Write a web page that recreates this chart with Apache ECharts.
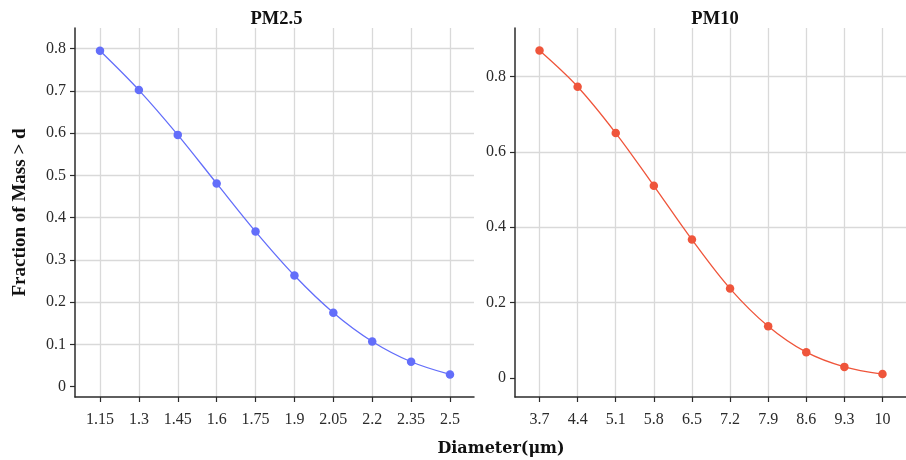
<!DOCTYPE html>
<html>
<head>
<meta charset="utf-8">
<script src="https://cdn.jsdelivr.net/npm/echarts@6/dist/echarts.min.js"></script>
<style>
  html, body { margin: 0; padding: 0; background: #ffffff; }
  #chart { width: 906px; height: 460px; }
</style>
</head>
<body>
<div id="chart"></div>
<script>
// Cumulative mass fraction above a given particle diameter
const pm25Diameters = [1.15, 1.3, 1.45, 1.6, 1.75, 1.9, 2.05, 2.2, 2.35, 2.5];
const pm25Fractions = [0.795, 0.702, 0.596, 0.481, 0.367, 0.263, 0.175, 0.107, 0.059, 0.029];

const pm10Diameters = [3.7, 4.4, 5.1, 5.8, 6.5, 7.2, 7.9, 8.6, 9.3, 10];
const pm10Fractions = [0.869, 0.773, 0.650, 0.510, 0.367, 0.237, 0.137, 0.068, 0.029, 0.010];

const pm25YTicks = [0, 0.1, 0.2, 0.3, 0.4, 0.5, 0.6, 0.7, 0.8];
const pm10YTicks = [0, 0.2, 0.4, 0.6, 0.8];

const panelTitles = ['PM2.5', 'PM10'];
const xTitle = 'Diameter(\u03bcm)';
const yTitle = 'Fraction of Mass > d';

const FONT = 'Liberation Serif';
const GRID_COLOR = '#d9d9d9';
const AXIS_COLOR = '#2b2b2b';
const TEXT_COLOR = '#2b2b2b';

// zero line is drawn white so it cuts through the vertical grid
function gridColors(ticks) {
  return ticks.map(v => (v === 0 ? '#ffffff' : GRID_COLOR));
}

function xAxisFor(gridIndex, ticks, min, max) {
  return {
    type: 'value', gridIndex, min, max,
    axisLine: { show: true, onZero: false, lineStyle: { color: AXIS_COLOR, width: 1.5 } },
    axisTick: { show: true, customValues: ticks, length: 5, lineStyle: { color: AXIS_COLOR, width: 1.2 } },
    axisLabel: {
      customValues: ticks, margin: 15,
      fontFamily: FONT, fontSize: 16, color: TEXT_COLOR,
      formatter: v => String(+v.toFixed(2))
    },
    splitLine: { show: true, lineStyle: { color: GRID_COLOR, width: 1.3 } }
  };
}

function yAxisFor(gridIndex, ticks, min, max, extra) {
  return Object.assign({
    type: 'value', gridIndex, min, max,
    axisLine: { show: true, onZero: false, lineStyle: { color: AXIS_COLOR, width: 1.5 } },
    axisTick: { show: true, customValues: ticks, length: 5, lineStyle: { color: AXIS_COLOR, width: 1.2 } },
    axisLabel: {
      customValues: ticks, margin: 9,
      fontFamily: FONT, fontSize: 16, color: TEXT_COLOR,
      formatter: v => String(+v.toFixed(2))
    },
    splitLine: { show: true, lineStyle: { color: gridColors(ticks), width: 1.3 } }
  }, extra || {});
}

function lineSeries(idx, xs, ys, color) {
  return {
    type: 'line', xAxisIndex: idx, yAxisIndex: idx,
    data: xs.map((x, i) => [x, ys[i]]),
    smooth: 0.35,
    symbol: 'circle', symbolSize: 8.5,
    showSymbol: true,
    lineStyle: { color, width: 1.3 },
    itemStyle: { color },
    emphasis: { disabled: true },
    z: 5
  };
}

const chart = echarts.init(document.getElementById('chart'), null, { renderer: 'canvas' });

chart.setOption({
  animation: false,
  backgroundColor: '#ffffff',
  title: [
    { text: panelTitles[0], left: 271.5, top: 5, textAlign: 'center',
      textStyle: { fontFamily: FONT, fontSize: 18.5, fontWeight: 'bold', color: '#111' } },
    { text: panelTitles[1], left: 710, top: 5, textAlign: 'center',
      textStyle: { fontFamily: FONT, fontSize: 18.5, fontWeight: 'bold', color: '#111' } },
    { text: xTitle, left: 496, top: 436, textAlign: 'center',
      textStyle: { fontFamily: 'DejaVu Serif', fontSize: 16, fontWeight: 'bold', color: '#111' } }
  ],
  grid: [
    { left: 75, top: 28, width: 399, height: 369 },
    { left: 515, top: 28, width: 399, height: 369 }
  ],
  xAxis: [
    xAxisFor(0, pm25Diameters, 1.0536, 2.5926),
    xAxisFor(1, pm10Diameters, 3.2495, 10.432)
  ],
  yAxis: [
    yAxisFor(0, pm25YTicks, -0.0245, 0.849, {
      name: yTitle, nameLocation: 'middle', nameGap: 45,
      nameTextStyle: { fontFamily: FONT, fontSize: 19, fontWeight: 'bold', color: '#111' }
    }),
    yAxisFor(1, pm10YTicks, -0.051, 0.929)
  ],
  series: [
    lineSeries(0, pm25Diameters, pm25Fractions, '#636EFA'),
    lineSeries(1, pm10Diameters, pm10Fractions, '#EF553B')
  ]
});
</script>
</body>
</html>
